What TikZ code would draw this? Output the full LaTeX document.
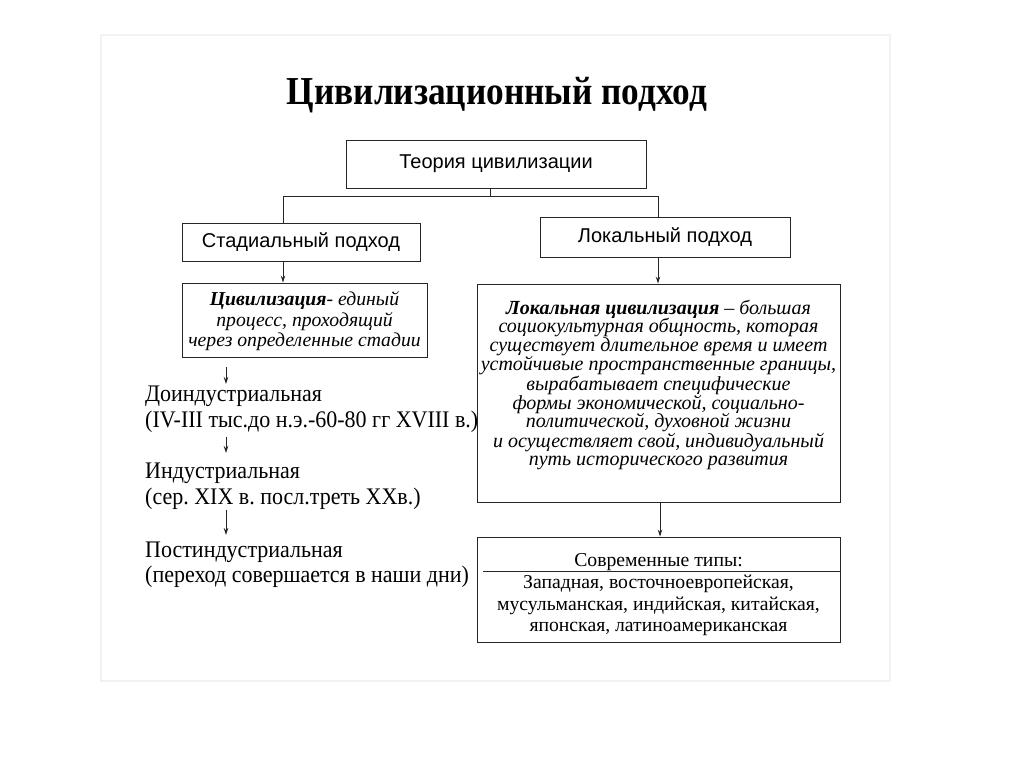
\documentclass[tikz,border=0pt]{standalone}
\usepackage{fontspec}
\setmainfont{Liberation Serif}
\newfontfamily\arialf{Liberation Sans}
\usetikzlibrary{arrows.meta}
\frenchspacing
\tikzset{
  box/.style={draw=black!85, line width=0.9pt, inner sep=0pt},
  sanslbl/.style={font=\arialf\fontsize{20}{24}\selectfont},
  stagetxt/.style={anchor=base west, inner sep=0pt, font=\fontsize{22}{26}\selectfont},
  modtxt/.style={inner sep=0pt, anchor=base, font=\fontsize{19.7}{22}\selectfont},
  link/.style={draw=black!85, line width=0.9pt},
  arr/.style={link, -{Stealth[length=7pt,width=4.5pt]}}
}
\newcommand{\vstretch}[1]{\scalebox{1}[1.08]{#1}}
\begin{document}
\begin{tikzpicture}[x=1pt,y=-1pt]
\useasboundingbox (0,0) rectangle (1024,767);
\fill[white] (0,0) rectangle (1024,767);
\draw[black!5, line width=1.5pt] (101,35) rectangle (890,681);
% title
\node (title) at (497,95) {\scalebox{0.98}[1.1]{\fontsize{36}{40}\selectfont\bfseries Цивилизационный подход}};
% top boxes
\node[box, minimum width=300pt, minimum height=48pt, sanslbl] (theory) at (496,164) {Теория цивилизации};
\node[box, minimum width=238pt, minimum height=38pt, sanslbl] (stad) at (301,242) {Стадиальный подход};
\node[box, minimum width=250pt, minimum height=40pt, sanslbl] (loc) at (665,237) {Локальный подход};
\coordinate (split) at (490,196);
\coordinate (splitL) at (283,196);
\coordinate (splitR) at (658,196);
\draw[link] (theory.south -| split) -- (split);
\draw[link] (splitL) -- (splitR);
\draw[link] (splitL) -- (splitL |- stad.north);
\draw[link] (splitR) -- (splitR |- loc.north);
% civilization box
\node[box, minimum width=245pt, minimum height=74pt] (civ) at (304.5,320) {};
\node[align=center, inner sep=0pt, font=\fontsize{19.7}{20.5}\selectfont\itshape] (civtxt) at (304.5,321.5)
  {\textbf{Цивилизация}- единый\\процесс, проходящий\\через определенные стадии};
\draw[arr] (stad.south -| splitL) -- (civ.north -| splitL);
% stages
\node[stagetxt] (s1a) at (145,401) {\vstretch{Доиндустриальная}};
\node[stagetxt] (s1b) at (145,427) {\vstretch{(IV-III тыс.до н.э.-60-80 гг XVIII в.)}};
\node[stagetxt] (s2a) at (145,478) {\vstretch{Индустриальная}};
\node[stagetxt] (s2b) at (145,504) {\vstretch{(сер. XIX в. посл.треть XXв.)}};
\node[stagetxt] (s3a) at (145,557) {\vstretch{Постиндустриальная}};
\node[stagetxt] (s3b) at (145,582) {\vstretch{(переход совершается в наши дни)}};
\coordinate (a1s) at (226,367); \coordinate (a1e) at (226,384);
\coordinate (a2s) at (226,437); \coordinate (a2e) at (226,453);
\coordinate (a3s) at (226,510); \coordinate (a3e) at (226,535);
\draw[arr] (a1s) -- (a1e);
\draw[arr] (a2s) -- (a2e);
\draw[arr] (a3s) -- (a3e);
% local civilization
\node[box, minimum width=363pt, minimum height=218pt] (lciv) at (658.5,393) {};
\node[align=center, inner sep=0pt, font=\fontsize{20}{18.5}\selectfont\itshape] (lcivtxt) at (658.5,385)
  {\textbf{Локальная цивилизация} -- большая\\
   социокультурная общность, которая\\
   существует длительное время и имеет\\
   устойчивые пространственные границы,\\
   вырабатывает специфические\\
   формы экономической, социально-\\
   политической, духовной жизни\\
   и осуществляет свой, индивидуальный\\
   путь исторического развития};
\draw[arr] (loc.south -| splitR) -- (lciv.north -| splitR);
% modern types
\node[box, minimum width=363pt, minimum height=105pt] (mod) at (658.5,589.5) {};
\coordinate (sepL) at (483,571);
\draw[link] (sepL) -- (sepL -| mod.east);
\node[modtxt] (modh) at (658.5,566) {Современные типы:};
\node[modtxt] (m1) at (658.5,588) {Западная, восточноевропейская,};
\node[modtxt] (m2) at (658.5,610) {мусульманская, индийская, китайская,};
\node[modtxt] (m3) at (658.5,631) {японская, латиноамериканская};
\coordinate (modx) at (660,0);
\draw[arr] (lciv.south -| modx) -- (mod.north -| modx);
\end{tikzpicture}
\end{document}
